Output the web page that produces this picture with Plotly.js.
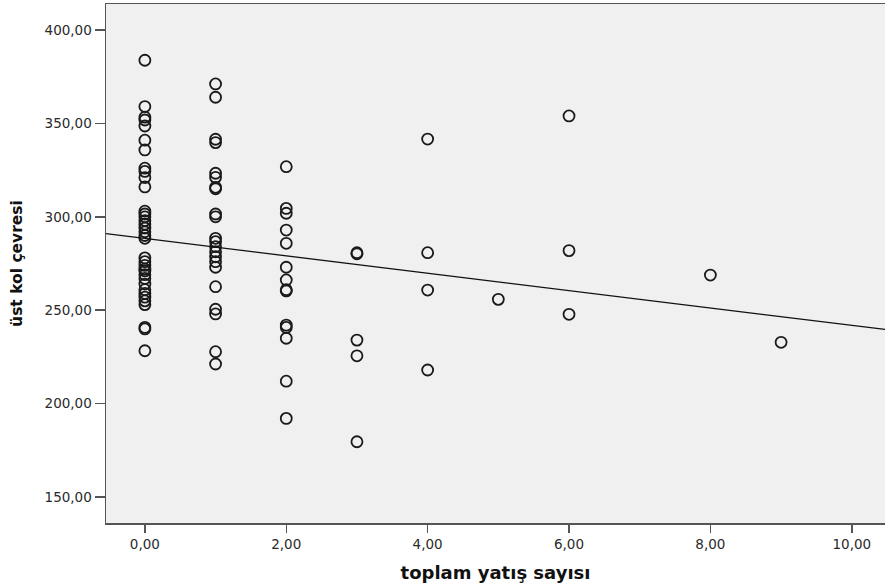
<!DOCTYPE html>
<html>
<head>
<meta charset="utf-8">
<script src="https://cdn.plot.ly/plotly-3.0.1.min.js"></script>
<style>html,body{margin:0;padding:0;background:#fff;}#chart{width:885px;height:588px;}</style>
</head>
<body>
<div id="chart"></div>
<script>
// toplam yatış sayısı = 0
const y0 = [383.8, 359, 353.3, 351.8, 348.6, 341, 335.8, 326, 324.3, 321, 316,
  303, 301.5, 300, 298, 296, 294, 292, 290, 288.5,
  278, 276, 274, 272, 271, 269, 267, 264, 261, 259, 257, 255, 253,
  240.8, 240, 228.3];
// = 1
const y1 = [371.1, 364, 341.5, 339.7, 323.3, 321.1, 315.8, 315, 301.5, 300,
  288.5, 286.7, 284, 281.3, 278.6, 276, 273, 262.6, 250.5, 248, 227.8, 221.2];
// = 2
const y2 = [326.8, 304.5, 301.9, 292.9, 285.8, 273, 266.2, 261, 260.3, 242, 240.8, 235, 212, 192.1];
// = 3
const y3 = [280.8, 280.2, 234.0, 225.6, 179.6];
// = 4
const y4 = [341.6, 280.8, 260.8, 218.0];
// = 5
const y5 = [255.8];
// = 6
const y6 = [354.0, 281.9, 247.8];
// = 8
const y8 = [268.8];
// = 9
const y9 = [232.8];

const groupX = [0, 1, 2, 3, 4, 5, 6, 8, 9];
const groupY = [y0, y1, y2, y3, y4, y5, y6, y8, y9];

// fit line
const fitIntercept = 288.4;
const fitSlope = -4.65;

const xRange = [-0.55, 10.47];
const yRange = [136.1, 413.9];

const xs = [], ys = [];
groupX.forEach((gx, i) => groupY[i].forEach(v => { xs.push(gx); ys.push(v); }));

const scatter = {
  type: 'scatter', mode: 'markers', x: xs, y: ys,
  marker: {symbol: 'circle-open', size: 11, color: '#1a1a1a', line: {width: 1.8, color: '#1a1a1a'}},
  hoverinfo: 'x+y', showlegend: false
};
const fit = {
  type: 'scatter', mode: 'lines',
  x: xRange, y: xRange.map(x => fitIntercept + fitSlope * x),
  line: {color: '#111', width: 1.3}, showlegend: false, hoverinfo: 'skip'
};

const fam = 'DejaVu Sans, Verdana, sans-serif';
const tickFont = {size: 13.5, color: '#2a2a2a', family: fam};

const layout = {
  width: 885, height: 588,
  margin: {l: 106, r: 0, t: 4, b: 65},
  paper_bgcolor: '#ffffff', plot_bgcolor: '#f0f0f0',
  separators: ',.',
  font: {family: fam, size: 13, color: '#333'},
  xaxis: {
    range: xRange, tickvals: [0, 2, 4, 6, 8, 10], tickformat: '.2f',
    showgrid: false, zeroline: false,
    showline: true, linecolor: '#555', linewidth: 1.5, mirror: true,
    ticks: 'outside', ticklen: 8, tickwidth: 1.5, tickcolor: '#555',
    tickfont: tickFont,
    title: {text: 'toplam yatış sayısı', font: {size: 18, color: '#111', weight: 'bold', family: fam}, standoff: 15}
  },
  yaxis: {
    range: yRange, tickvals: [150, 200, 250, 300, 350, 400], tickformat: '.2f',
    showgrid: false, zeroline: false,
    showline: true, linecolor: '#555', linewidth: 1.5, mirror: true,
    ticks: 'outside', ticklen: 10, tickwidth: 1.5, tickcolor: '#555',
    tickfont: tickFont,
    title: {text: 'üst kol çevresi', font: {size: 15.5, color: '#111', weight: 'bold', family: fam}, standoff: 18}
  }
};

Plotly.newPlot('chart', [scatter, fit], layout, {staticPlot: true});
</script>
</body>
</html>
